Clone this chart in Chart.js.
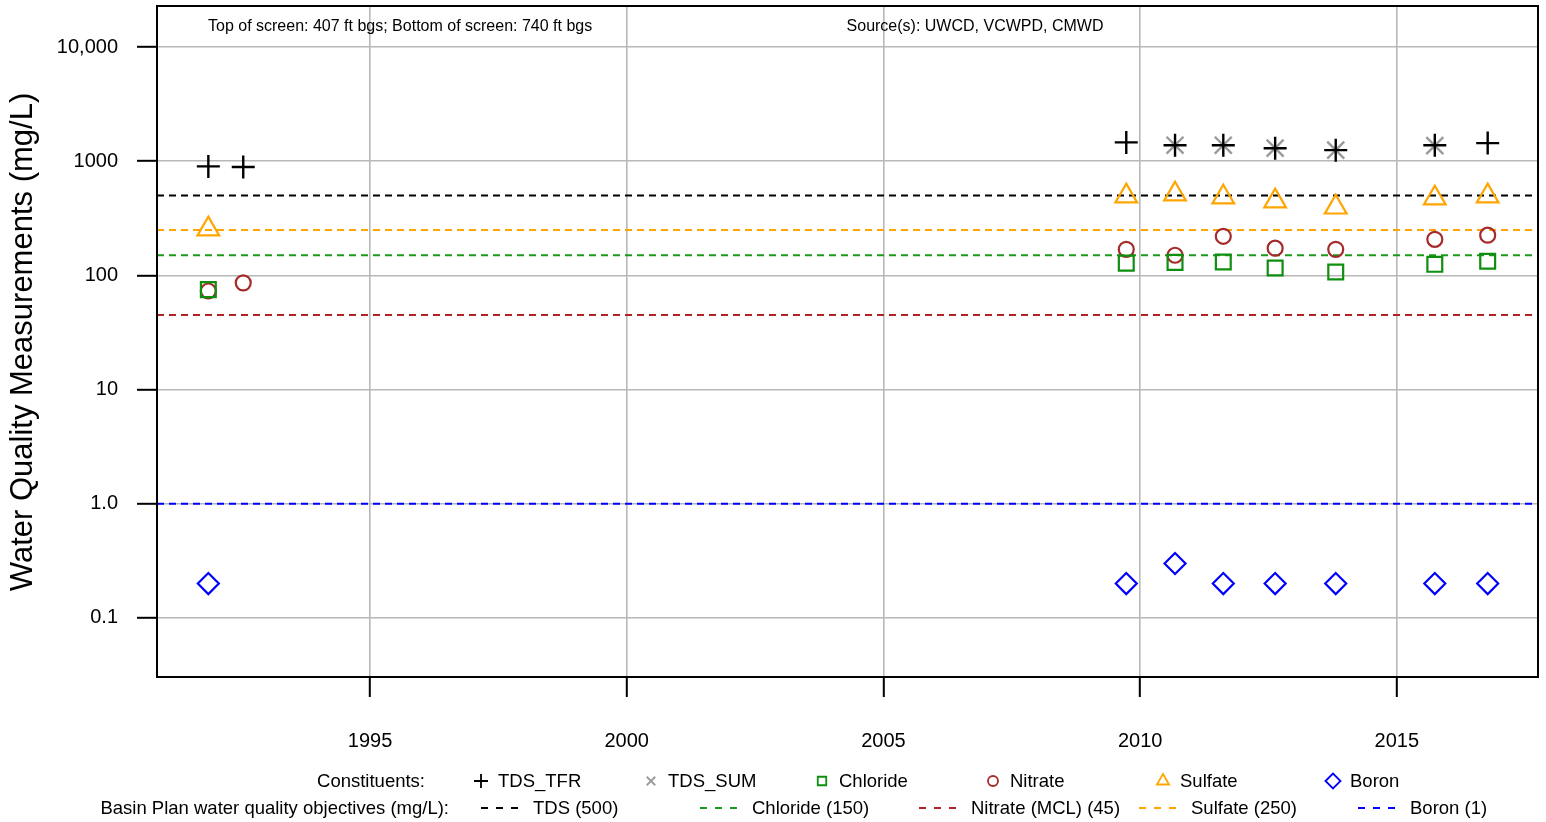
<!DOCTYPE html>
<html>
<head>
<meta charset="utf-8">
<script src="https://cdn.jsdelivr.net/npm/chart.js@4/dist/chart.umd.min.js"></script>
<style>
  html, body { margin: 0; padding: 0; background: #fff; }
  canvas { display: block; }
</style>
</head>
<body>
<canvas id="chart" width="1546" height="822"></canvas>
<script>
// sample dates (decimal years)
const dates = [1991.85, 1992.53, 2009.73, 2010.68, 2011.62, 2012.63, 2013.81, 2015.74, 2016.77];

// constituents, mg/L (null = not sampled)
const tdsTfr   = [900, 890, 1460, 1380, 1380, 1300, 1250, 1380, 1440];
const tdsSum   = [null, null, null, 1380, 1380, 1300, 1250, 1370, null];
const chloride = [75, null, 128, 130, 131, 116, 107, 125, 133];
const nitrate  = [73, 86, 169, 150, 220, 173, 169, 207, 225];
const sulfate  = [254, null, 494, 514, 484, 447, 395, 474, 494];
const boron    = [0.2, null, 0.2, 0.3, 0.2, 0.2, 0.2, 0.2, 0.2];

// basin plan objectives
const objNames  = ['TDS (500)', 'Chloride (150)', 'Nitrate (MCL) (45)', 'Sulfate (250)', 'Boron (1)'];
const objValues = [500, 150, 45, 250, 1];
const objColors = ['#000000', '#1a9a1a', '#b22222', '#ffa500', '#0000ff'];

// axis ticks
const yTickValues = [0.1, 1, 10, 100, 1000, 10000];
const yTickLabels = ['0.1', '1.0', '10', '100', '1000', '10,000'];
const xMin = 1990.85, xMax = 2017.75;
const yMin = 0.0304, yMax = 22860;

const FONT = '"Liberation Sans", Arial, sans-serif';

function pts(values) {
  return dates.map((d, i) => ({ x: d, y: values[i] })).filter(p => p.y !== null);
}

const series = [
  { label: 'TDS_TFR',  data: tdsTfr,   color: '#000000', style: 'cross',    r: 11.5 },
  { label: 'TDS_SUM',  data: tdsSum,   color: '#9a9a9a', style: 'crossRot', r: 12 },
  { label: 'Chloride', data: chloride, color: '#0f8f0f', style: 'rect',     r: 10.5 },
  { label: 'Nitrate',  data: nitrate,  color: '#a52a2a', style: 'circle',   r: 7.5 },
  { label: 'Sulfate',  data: sulfate,  color: '#ffa500', style: 'triangle', r: 12.5 },
  { label: 'Boron',    data: boron,    color: '#0000ff', style: 'rectRot',  r: 10.5 }
];

const datasets = series.map(s => ({
  type: 'scatter',
  label: s.label,
  data: pts(s.data),
  pointStyle: s.style,
  pointRadius: s.r,
  pointBorderColor: s.color,
  pointBackgroundColor: 'rgba(0,0,0,0)',
  pointBorderWidth: s.style.startsWith('cross') ? 2.4 : 2.2,
  showLine: false
}));

objValues.forEach((v, i) => {
  datasets.push({
    type: 'line',
    label: objNames[i],
    data: [{ x: xMin, y: v }, { x: xMax, y: v }],
    borderColor: objColors[i],
    borderWidth: 2,
    borderDash: [7, 5],
    pointRadius: 0,
    fill: false
  });
});

const decorPlugin = {
  id: 'decor',
  afterDraw(chart) {
    const ctx = chart.ctx;
    const a = chart.chartArea;
    ctx.save();
    // plot box
    ctx.strokeStyle = '#000';
    ctx.lineWidth = 2;
    ctx.strokeRect(a.left, a.top, a.right - a.left, a.bottom - a.top);

    // notes inside plot
    ctx.fillStyle = '#000';
    ctx.font = '16px ' + FONT;
    ctx.textBaseline = 'alphabetic';
    ctx.textAlign = 'left';
    ctx.fillText('Top of screen: 407 ft bgs; Bottom of screen: 740 ft bgs', 208, 31);
    ctx.textAlign = 'center';
    ctx.fillText('Source(s): UWCD, VCWPD, CMWD', 975, 31);

    // y axis title
    ctx.save();
    ctx.translate(32, 342);
    ctx.rotate(-Math.PI / 2);
    ctx.font = '31px ' + FONT;
    ctx.textAlign = 'center';
    ctx.fillText('Water Quality Measurements (mg/L)', 0, 0);
    ctx.restore();

    // legend
    const row1 = 782, row2 = 809;
    ctx.font = '18.5px ' + FONT;
    ctx.textBaseline = 'middle';
    ctx.textAlign = 'right';
    ctx.fillText('Constituents:', 425, row1);
    ctx.fillText('Basin Plan water quality objectives (mg/L):', 449, row2);

    const symX = [481, 651, 822, 993, 1163, 1333];
    const symR = [7, 6, 6, 5, 7, 7.5];
    series.forEach((s, i) => {
      ctx.fillStyle = 'rgba(0,0,0,0)';
      ctx.strokeStyle = s.color;
      ctx.lineWidth = 1.8;
      Chart.helpers.drawPoint(ctx, {
        pointStyle: s.style, radius: symR[i], rotation: 0, borderWidth: 1.8
      }, symX[i], row1 - 1);
      ctx.textAlign = 'left';
      ctx.fillStyle = '#000';
      ctx.fillText(s.label, symX[i] + 17, row1);
    });

    const lineX = [481, 700, 919, 1139, 1358];
    objNames.forEach((name, i) => {
      ctx.beginPath();
      ctx.setLineDash([7, 8]);
      ctx.lineWidth = 2;
      ctx.strokeStyle = objColors[i];
      ctx.moveTo(lineX[i], row2 - 1);
      ctx.lineTo(lineX[i] + 38, row2 - 1);
      ctx.stroke();
      ctx.setLineDash([]);
      ctx.fillStyle = '#000';
      ctx.textAlign = 'left';
      ctx.fillText(name, lineX[i] + 52, row2);
    });
    ctx.restore();
  }
};

new Chart(document.getElementById('chart'), {
  data: { datasets: datasets },
  options: {
    responsive: false,
    animation: false,
    layout: { autoPadding: false, padding: { top: 6, right: 8, left: 0, bottom: 0 } },
    plugins: {
      legend: { display: false },
      tooltip: { enabled: false }
    },
    scales: {
      x: {
        type: 'linear',
        min: xMin,
        max: xMax,
        afterFit(scale) {
          scale.height = 145;
          scale.paddingLeft = 0;
          scale.paddingRight = 0;
        },
        border: { display: true, color: '#000', width: 2 },
        grid: { color: '#b8b8b8', lineWidth: 1.6, tickLength: 20, tickColor: '#000', tickWidth: 2 },
        ticks: {
          stepSize: 5,
          includeBounds: false,
          autoSkip: false,
          maxRotation: 0,
          padding: 32,
          color: '#000',
          font: { family: FONT, size: 20 },
          callback: v => String(v)
        }
      },
      y: {
        type: 'logarithmic',
        min: yMin,
        max: yMax,
        afterFit(scale) {
          scale.width = 157;
          scale.paddingTop = 0;
          scale.paddingBottom = 0;
        },
        afterBuildTicks(scale) { scale.ticks = yTickValues.map(v => ({ value: v })); },
        border: { display: true, color: '#000', width: 2 },
        grid: { color: '#b8b8b8', lineWidth: 1.6, tickLength: 20, tickColor: '#000', tickWidth: 2 },
        ticks: {
          autoSkip: false,
          padding: 19,
          color: '#000',
          font: { family: FONT, size: 20 },
          callback: (v) => {
            const i = yTickValues.findIndex(t => Math.abs(t - v) / t < 1e-6);
            return i >= 0 ? yTickLabels[i] : '';
          }
        }
      }
    }
  },
  plugins: [decorPlugin]
});
</script>
</body>
</html>
